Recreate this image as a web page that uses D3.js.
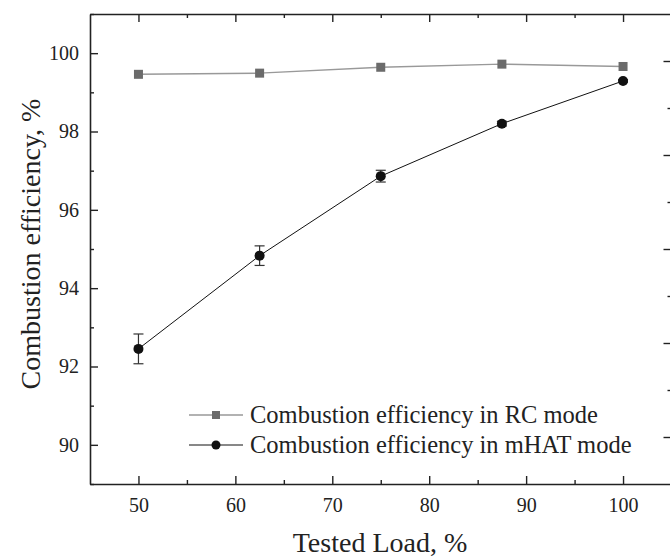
<!DOCTYPE html>
<html>
<head>
<meta charset="utf-8">
<script src="https://cdn.jsdelivr.net/npm/d3@7"></script>
<style>
  html, body { margin: 0; padding: 0; background: #fff; }
  svg { display: block; }
  svg text { font-family: 'Liberation Serif', 'Times New Roman', Times, serif; }
</style>
</head>
<body>
<svg id="chart" width="670" height="558"></svg>
<script>
// Tested load levels (%)
const loads = [50, 62.5, 75, 87.5, 100];
// Combustion efficiency (%) in RC mode
const rcEff = [99.46, 99.49, 99.64, 99.72, 99.66];
// Combustion efficiency (%) in mHAT mode, with error half-widths
const mhatEff = [92.45, 94.83, 96.86, 98.20, 99.29];
const mhatErr = [0.38, 0.25, 0.15, 0.06, 0.03];

const xMajor = [50, 60, 70, 80, 90, 100];
const xMinor = [55, 65, 75, 85, 95];
const yMajor = [90, 92, 94, 96, 98, 100];
const yMinor = [89, 91, 93, 95, 97, 99, 101];
// unlabeled secondary scale on the right frame
const y2Major = [1, 3, 5, 7, 9];
const y2Minor = [2, 4, 6, 8];

const legendLabels = ["Combustion efficiency in RC mode", "Combustion efficiency in mHAT mode"];

const FONT = "'Liberation Serif', 'Times New Roman', Times, serif";

const svg = d3.select("#chart");
const plotLeft = 90, plotRight = 671.5, plotTop = 14, plotBottom = 484;

const x = d3.scaleLinear().domain([45, 105]).range([plotLeft, plotRight]);
const y = d3.scaleLinear().domain([89, 101]).range([plotBottom, plotTop]);
const y2 = d3.scaleLinear().domain([0, 10]).range([plotBottom, plotTop]);

const majorLen = 8, minorLen = 4;
const axisColor = "#222";

function styleAxis(g) {
  g.attr("font-family", FONT).attr("font-size", 20);
  g.select(".domain").attr("stroke", axisColor).attr("stroke-width", 1.6);
  g.selectAll(".tick line").attr("stroke", axisColor).attr("stroke-width", 1.4);
  g.selectAll(".tick text").style("font-size", "20px").style("font-family", FONT).attr("fill", "#222");
}

// bottom axis (labeled), ticks pointing inward
svg.append("g").attr("transform", `translate(0,${plotBottom})`)
  .call(d3.axisBottom(x).tickValues(xMajor).tickSize(-majorLen).tickPadding(14).tickSizeOuter(0))
  .call(styleAxis);
svg.append("g").attr("transform", `translate(0,${plotBottom})`)
  .call(d3.axisBottom(x).tickValues(xMinor).tickSize(-minorLen).tickFormat("").tickSizeOuter(0))
  .call(styleAxis).select(".domain").remove();

// top axis, unlabeled
svg.append("g").attr("transform", `translate(0,${plotTop})`)
  .call(d3.axisTop(x).tickValues(xMajor).tickSize(-majorLen).tickFormat("").tickSizeOuter(0))
  .call(styleAxis);
svg.append("g").attr("transform", `translate(0,${plotTop})`)
  .call(d3.axisTop(x).tickValues(xMinor).tickSize(-minorLen).tickFormat("").tickSizeOuter(0))
  .call(styleAxis).select(".domain").remove();

// left axis (labeled)
svg.append("g").attr("transform", `translate(${plotLeft},0)`)
  .call(d3.axisLeft(y).tickValues(yMajor).tickSize(-majorLen).tickPadding(11).tickSizeOuter(0))
  .call(styleAxis);
svg.append("g").attr("transform", `translate(${plotLeft},0)`)
  .call(d3.axisLeft(y).tickValues(yMinor).tickSize(-minorLen).tickFormat("").tickSizeOuter(0))
  .call(styleAxis).select(".domain").remove();

// right axis, unlabeled secondary scale
svg.append("g").attr("transform", `translate(${plotRight},0)`)
  .call(d3.axisRight(y2).tickValues(y2Major).tickSize(-majorLen).tickFormat("").tickSizeOuter(0))
  .call(styleAxis);
svg.append("g").attr("transform", `translate(${plotRight},0)`)
  .call(d3.axisRight(y2).tickValues(y2Minor).tickSize(-minorLen).tickFormat("").tickSizeOuter(0))
  .call(styleAxis).select(".domain").remove();

// axis titles
svg.append("text")
  .attr("x", 380).attr("y", 552)
  .attr("text-anchor", "middle").style("font-size", "28px").style("font-family", FONT).attr("fill", "#222")
  .text("Tested Load, %");
svg.append("text")
  .attr("transform", `translate(40,244) rotate(-90)`)
  .attr("text-anchor", "middle").style("font-size", "28px").style("font-family", FONT).attr("fill", "#222")
  .text("Combustion efficiency, %");

const line = d3.line().x(d => x(d[0])).y(d => y(d[1]));
const rcColor = "#6b6b6b", rcLine = "#999999";
const mColor = "#111";

// RC series
svg.append("path").datum(loads.map((l, i) => [l, rcEff[i]]))
  .attr("d", line).attr("fill", "none").attr("stroke", rcLine).attr("stroke-width", 1.4);
svg.selectAll(".rc").data(loads).enter().append("rect")
  .attr("x", d => x(d) - 4.5).attr("y", (d, i) => y(rcEff[i]) - 4.5)
  .attr("width", 9).attr("height", 9).attr("fill", rcColor);

// mHAT series
svg.append("path").datum(loads.map((l, i) => [l, mhatEff[i]]))
  .attr("d", line).attr("fill", "none").attr("stroke", mColor).attr("stroke-width", 1);
const eb = svg.selectAll(".eb").data(loads).enter().append("g");
eb.append("line")
  .attr("x1", d => x(d)).attr("x2", d => x(d))
  .attr("y1", (d, i) => y(mhatEff[i] + mhatErr[i])).attr("y2", (d, i) => y(mhatEff[i] - mhatErr[i]))
  .attr("stroke", "#333").attr("stroke-width", 1.2);
[1, -1].forEach(s => {
  eb.append("line")
    .attr("x1", d => x(d) - 5).attr("x2", d => x(d) + 5)
    .attr("y1", (d, i) => y(mhatEff[i] + s * mhatErr[i])).attr("y2", (d, i) => y(mhatEff[i] + s * mhatErr[i]))
    .attr("stroke", "#333").attr("stroke-width", 1.2);
});
svg.selectAll(".mh").data(loads).enter().append("circle")
  .attr("cx", d => x(d)).attr("cy", (d, i) => y(mhatEff[i]))
  .attr("r", 5).attr("fill", mColor);

// legend
const legY = [415, 445];
const lg = svg.append("g");
legendLabels.forEach((lab, i) => {
  const yy = legY[i];
  lg.append("line").attr("x1", 189).attr("x2", 243).attr("y1", yy).attr("y2", yy)
    .attr("stroke", i === 0 ? rcLine : mColor).attr("stroke-width", i === 0 ? 1.4 : 1);
  if (i === 0) {
    lg.append("rect").attr("x", 212).attr("y", yy - 4).attr("width", 8).attr("height", 8).attr("fill", rcColor);
  } else {
    lg.append("circle").attr("cx", 216).attr("cy", yy).attr("r", 4.5).attr("fill", mColor);
  }
  lg.append("text").attr("x", 250).attr("y", yy + 8)
    .style("font-size", "24.5px").style("font-family", FONT).attr("fill", "#222").text(lab);
});
</script>
</body>
</html>
